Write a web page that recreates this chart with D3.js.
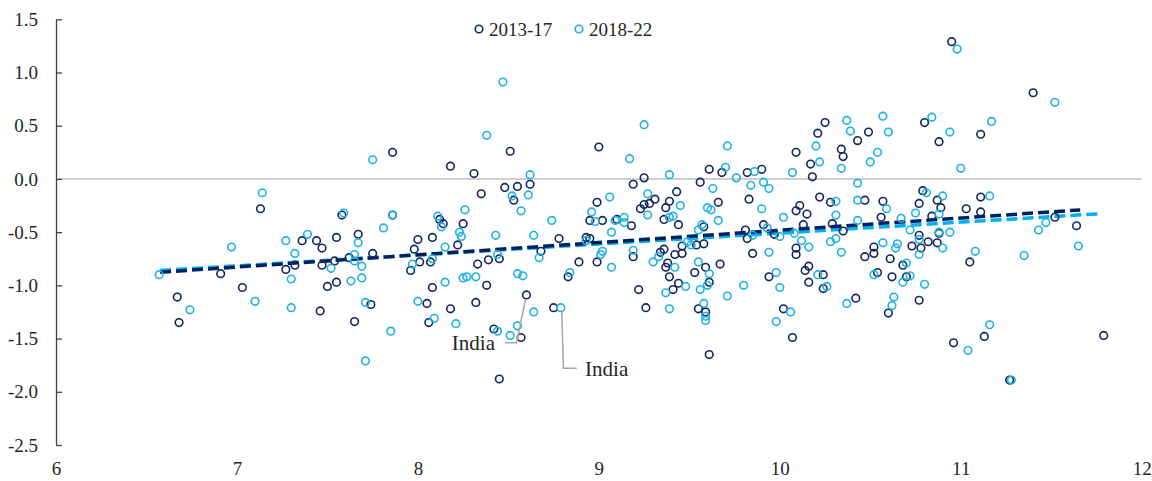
<!DOCTYPE html>
<html>
<head>
<meta charset="utf-8">
<script src="https://cdn.jsdelivr.net/npm/d3@7"></script>
<style>
  body { margin: 0; background: #fff; }
  text { font-family: "Liberation Serif"; }
</style>
</head>
<body>
<svg id="chart" width="1152" height="481"></svg>
<script>
"use strict";

//data *********************************************************************************
var seriesNames = ["2013-17", "2018-22"];

var pts1317 = [
  [6.67,-1.11],[6.68,-1.35],[6.91,-0.89],[7.03,-1.02],[7.13,-0.28],[7.27,-0.85],[7.32,-0.81],[7.36,-0.58],
  [7.44,-0.58],[7.47,-0.65],[7.47,-0.81],[7.46,-1.24],[7.50,-1.01],[7.55,-0.97],[7.55,-0.55],[7.54,-0.77],
  [7.58,-0.34],[7.62,-0.74],[7.67,-0.52],[7.65,-1.34],[7.74,-1.18],[7.75,-0.70],[7.86,0.25],[7.86,-0.34],
  [8.00,-0.57],[7.98,-0.66],[7.96,-0.86],[8.01,-0.78],[8.07,-0.78],[8.08,-0.55],[8.08,-1.02],[8.05,-1.17],
  [8.06,-1.35],[8.12,-0.38],[8.14,-0.42],[8.18,0.12],[8.18,-1.22],[8.25,-0.42],[8.22,-0.62],[8.31,0.05],
  [8.33,-0.80],[8.32,-1.16],[8.35,-0.14],[8.48,-0.08],[8.51,0.26],[8.55,-0.07],[8.53,-0.20],[8.62,-0.05],
  [8.39,-0.76],[8.45,-0.75],[8.38,-1.00],[8.60,-1.09],[8.42,-1.41],[8.57,-1.49],[8.45,-1.88],[8.68,-0.68],
  [8.78,-0.56],[8.75,-1.21],[8.83,-0.92],[8.89,-0.78],[8.93,-0.55],[8.95,-0.56],[8.95,-0.39],[8.99,-0.22],
  [9.00,0.30],[9.02,-0.39],[8.99,-0.78],[9.10,-0.38],[9.18,-0.44],[9.19,-0.05],[9.19,-0.73],[9.22,-1.04],
  [9.23,-0.28],[9.26,-1.21],[9.25,0.01],[9.25,-0.24],[9.28,-0.23],[9.31,-0.19],[9.39,-0.21],[9.37,-0.27],
  [9.43,-0.12],[9.36,-0.38],[9.44,-0.43],[9.36,-0.66],[9.34,-0.69],[9.46,-0.70],[9.46,-0.63],[9.42,-0.71],
  [9.38,-0.79],[9.37,-0.83],[9.39,-0.92],[9.44,-0.98],[9.41,-1.04],[9.53,-0.88],[9.54,-0.62],[9.58,-0.61],
  [9.58,-0.45],[9.59,-0.83],[9.67,-0.80],[9.61,-0.97],[9.55,-1.22],[9.59,-1.25],[9.61,-1.65],[9.56,-0.03],
  [9.61,0.09],[9.68,0.06],[9.66,-0.22],[9.82,0.06],[9.90,0.09],[9.83,-0.19],[9.81,-0.48],[9.82,-0.56],
  [9.91,-0.43],[9.97,-0.52],[9.85,-0.70],[9.94,-0.92],[10.02,-1.22],[10.07,-1.49],[10.09,0.25],[10.09,-0.30],
  [10.09,-0.65],[10.09,-0.71],[10.25,0.53],[10.21,0.43],[10.43,0.36],[10.49,0.44],[10.80,0.53],[10.88,0.35],
  [10.34,0.28],[10.35,0.21],[10.17,0.14],[10.18,0.02],[10.22,-0.17],[10.28,-0.22],[10.47,-0.20],[10.57,-0.21],
  [10.79,-0.11],[10.77,-0.23],[10.87,-0.20],[10.89,-0.27],[10.84,-0.35],[10.11,-0.25],[10.15,-0.33],[10.13,-0.43],
  [10.29,-0.42],[10.56,-0.36],[10.35,-0.49],[10.77,-0.53],[10.82,-0.59],[10.87,-0.60],[10.88,-0.51],[10.52,-0.64],
  [10.52,-0.70],[10.47,-0.73],[10.61,-0.75],[10.73,-0.63],[10.78,-0.65],[10.68,-0.81],[10.14,-0.86],[10.16,-0.82],
  [10.16,-0.97],[10.24,-0.90],[10.24,-1.03],[10.54,-0.88],[10.62,-0.92],[10.70,-0.92],[10.42,-1.12],[10.60,-1.26],
  [10.77,-1.14],[10.96,-1.54],[10.95,1.29],[11.40,0.81],[11.11,0.42],[11.11,-0.17],[11.03,-0.28],[11.11,-0.31],
  [11.52,-0.36],[11.64,-0.44],[11.05,-0.78],[11.13,-1.48],[11.27,-1.89],[11.79,-1.47]
];

var pts1822 = [
  [6.57,-0.90],[6.74,-1.23],[6.97,-0.64],[7.10,-1.15],[7.14,-0.13],[7.27,-0.58],[7.30,-0.94],[7.30,-1.21],
  [7.32,-0.70],[7.39,-0.52],[7.52,-0.84],[7.59,-0.32],[7.63,-0.96],[7.65,-0.71],[7.65,-0.77],[7.67,-0.60],
  [7.69,-0.82],[7.69,-0.93],[7.71,-1.16],[7.71,-1.71],[7.75,0.18],[7.81,-0.46],[7.86,-0.34],[7.85,-1.43],
  [7.97,-0.80],[8.00,-1.15],[8.08,-0.75],[8.09,-1.31],[8.11,-0.35],[8.13,-0.45],[8.15,-0.64],[8.15,-0.97],
  [8.21,-1.36],[8.26,-0.29],[8.23,-0.50],[8.24,-0.54],[8.25,-0.93],[8.27,-0.92],[8.32,-0.92],[8.47,0.91],
  [8.38,0.41],[8.62,0.04],[8.52,-0.16],[8.61,-0.15],[8.57,-0.30],[8.74,-0.39],[8.43,-0.53],[8.64,-0.53],
  [8.67,-0.74],[8.44,-0.71],[8.55,-0.89],[8.58,-0.91],[8.64,-1.25],[8.79,-1.21],[8.44,-1.43],[8.55,-1.38],
  [8.51,-1.47],[8.84,-0.88],[8.93,-0.58],[8.96,-0.31],[8.98,-0.40],[9.06,-0.17],[9.09,-0.39],[9.14,-0.36],
  [9.14,-0.41],[9.07,-0.50],[9.01,-0.71],[9.02,-0.68],[9.07,-0.83],[9.17,0.19],[9.19,-0.67],[9.25,0.51],
  [9.71,0.31],[9.70,0.11],[9.86,0.07],[10.07,0.06],[9.39,0.04],[9.76,0.01],[9.84,-0.06],[9.91,-0.03],
  [9.94,-0.09],[9.63,-0.09],[9.27,-0.14],[9.45,-0.25],[9.60,-0.27],[9.62,-0.29],[9.90,-0.28],[9.27,-0.34],
  [9.39,-0.36],[9.41,-0.35],[9.66,-0.39],[10.02,-0.36],[9.57,-0.43],[9.55,-0.48],[9.85,-0.53],[9.93,-0.46],
  [10.00,-0.54],[10.08,-0.51],[9.49,-0.59],[9.51,-0.62],[9.33,-0.73],[9.30,-0.78],[9.42,-0.83],[9.55,-0.78],
  [9.61,-0.89],[9.48,-1.01],[9.60,-1.00],[9.56,-1.04],[9.37,-1.07],[9.71,-1.10],[9.80,-1.00],[9.94,-0.69],
  [9.98,-0.88],[10.00,-1.02],[9.39,-1.22],[9.58,-1.17],[9.59,-1.29],[9.59,-1.33],[10.06,-1.25],[9.98,-1.34],
  [10.37,0.55],[10.57,0.59],[10.39,0.45],[10.60,0.44],[10.84,0.58],[10.94,0.44],[10.20,0.31],[10.54,0.25],
  [10.50,0.16],[10.22,0.16],[10.34,0.10],[11.00,0.10],[10.43,-0.04],[10.31,-0.21],[10.43,-0.20],[10.59,-0.28],
  [10.81,-0.13],[10.75,-0.32],[10.90,-0.16],[10.88,-0.33],[10.31,-0.34],[10.43,-0.39],[10.67,-0.37],[10.72,-0.48],
  [10.88,-0.50],[10.77,-0.57],[10.94,-0.50],[10.12,-0.58],[10.16,-0.64],[10.28,-0.59],[10.31,-0.56],[10.34,-0.69],
  [10.57,-0.60],[10.65,-0.61],[10.64,-0.65],[10.77,-0.71],[10.90,-0.65],[10.70,-0.79],[10.21,-0.90],[10.26,-1.01],
  [10.52,-0.90],[10.68,-0.97],[10.72,-0.91],[10.80,-0.99],[10.37,-1.17],[10.63,-1.11],[10.62,-1.19],[10.98,1.22],
  [11.52,0.72],[11.17,0.54],[11.16,-0.16],[11.43,-0.48],[11.47,-0.41],[11.65,-0.63],[11.08,-0.68],[11.35,-0.72],
  [11.04,-1.61],[11.16,-1.37],[11.28,-1.89]
];

// fitted lines, end points as drawn
var trend1317 = [[6.575,-0.877],[11.66,-0.291]];
var trend1822 = [[6.575,-0.860],[11.78,-0.326]];

var xTicks = [6, 7, 8, 9, 10, 11, 12];
var yTicks = [-2.5, -2.0, -1.5, -1.0, -0.5, 0.0, 0.5, 1.0, 1.5];

// "India" callouts: label spot, then leader path ending at the point
var indiaNotes = [
  { text: "India", anchor: "end",   at: [8.426,-1.535], path: [[8.48,-1.54],[8.545,-1.54],[8.595,-1.13]] },
  { text: "India", anchor: "start", at: [8.924,-1.779], path: [[8.795,-1.25],[8.804,-1.779],[8.878,-1.779]] }
];

//variables ************************************************************
var serif = "Liberation Serif";
var textColor = "#262626";
var dark = "#14265c";
var light = "#1db1e8";
var darkLine = "#002060";
var lightLine = "#00b0f0";
var dotR = 3.8;

var plotLeft = 56, plotRight = 1141.7, plotTop = 19.3, plotBottom = 445;

var x = d3.scaleLinear().domain([6, 12]).range([plotLeft, plotRight]);
var y = d3.scaleLinear().domain([-2.5, 1.5]).range([plotBottom, plotTop]);

var svg = d3.select("#chart");
svg.append("rect").attr("width", 1152).attr("height", 481).attr("fill", "#fff");

//axes ************************************************************
svg.append("line")
  .attr("x1", x(6)).attr("x2", x(12))
  .attr("y1", y(0)).attr("y2", y(0))
  .attr("stroke", "#bfbfbf")
  .attr("stroke-width", 1.5);

var yAxis = svg.append("g")
  .attr("transform", "translate(" + plotLeft + ",0)")
  .call(d3.axisLeft(y)
    .tickValues(yTicks)
    .tickSize(-6)
    .tickSizeOuter(0)
    .tickPadding(18)
    .tickFormat(function(d) { return d.toFixed(1); }));
yAxis.selectAll("path, line").attr("stroke", "#404040").attr("stroke-width", 1.3);

var xAxis = svg.append("g")
  .attr("transform", "translate(0," + plotBottom + ")")
  .call(d3.axisBottom(x)
    .tickValues(xTicks)
    .tickSize(0)
    .tickPadding(17)
    .tickFormat(d3.format("d")));
xAxis.select(".domain").remove();

// axis groups carry font-family="sans-serif"; override on the groups too
svg.selectAll("g").attr("font-family", serif);
svg.selectAll(".tick text")
  .attr("font-family", serif)
  .style("font-size", "19px")
  .style("fill", textColor);

//trend lines ************************************************************
var line = d3.line()
  .x(function(d) { return x(d[0]); })
  .y(function(d) { return y(d[1]); });

svg.append("path")
  .datum(trend1822)
  .attr("d", line)
  .attr("fill", "none")
  .attr("stroke", lightLine)
  .attr("stroke-width", 3.5)
  .attr("stroke-dasharray", "11,5");

svg.append("path")
  .datum(trend1317)
  .attr("d", line)
  .attr("fill", "none")
  .attr("stroke", darkLine)
  .attr("stroke-width", 3.5)
  .attr("stroke-dasharray", "11,5");

//points ************************************************************
function drawDots(data, color) {
  svg.append("g")
    .selectAll("circle")
    .data(data)
    .enter()
    .append("circle")
    .attr("cx", function(d) { return x(d[0]); })
    .attr("cy", function(d) { return y(d[1]); })
    .attr("r", dotR)
    .attr("fill", "none")
    .attr("stroke", color)
    .attr("stroke-width", 1.6);
}
drawDots(pts1317, dark);
drawDots(pts1822, light);

//India labels ************************************************************
indiaNotes.forEach(function(n) {
  svg.append("path")
    .datum(n.path)
    .attr("d", line)
    .attr("fill", "none")
    .attr("stroke", "#a6a6a6")
    .attr("stroke-width", 1.5);
  svg.append("text")
    .attr("x", x(n.at[0]))
    .attr("y", y(n.at[1]))
    .attr("dy", "0.35em")
    .attr("text-anchor", n.anchor)
    .attr("font-family", serif)
    .style("font-size", "21px")
    .style("fill", textColor)
    .text(n.text);
});

//legend ************************************************************
var legend = svg.selectAll(".legend")
  .data(seriesNames)
  .enter()
  .append("g")
  .attr("class", "legend")
  .attr("transform", function(d, i) { return "translate(" + (479 + i * 100) + ",29)"; });

legend.append("circle")
  .attr("r", dotR)
  .attr("fill", "none")
  .attr("stroke", function(d, i) { return i === 0 ? dark : light; })
  .attr("stroke-width", 1.6);

legend.append("text")
  .attr("x", 10)
  .attr("dy", "0.35em")
  .attr("font-family", serif)
  .style("font-size", "19px")
  .style("fill", textColor)
  .text(function(d) { return d; });
</script>
</body>
</html>
